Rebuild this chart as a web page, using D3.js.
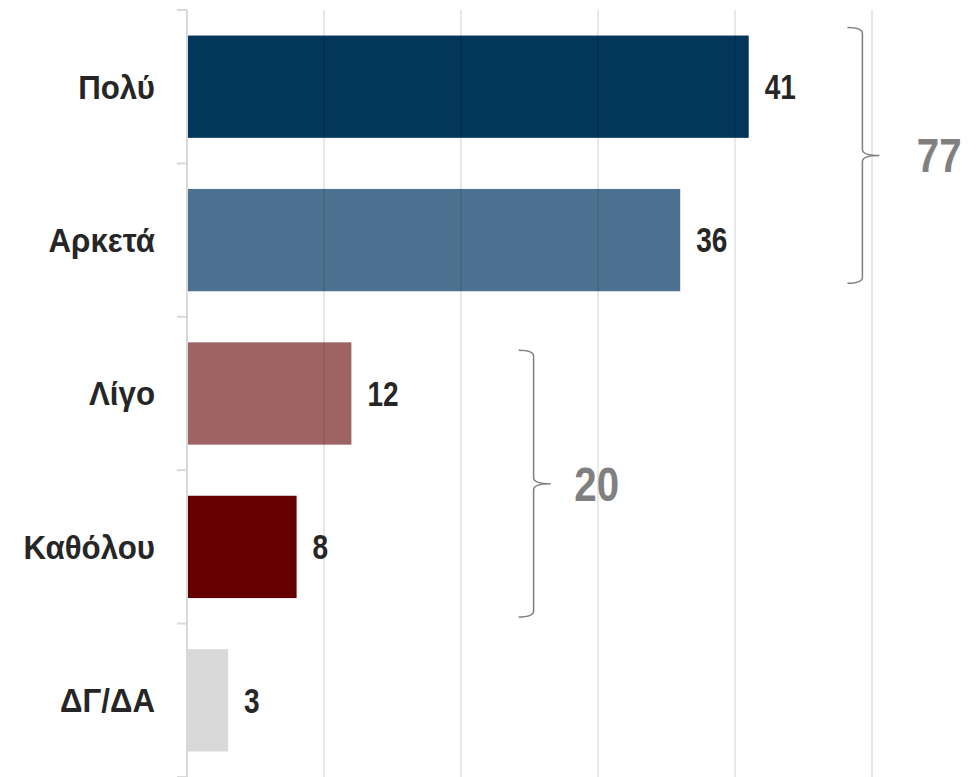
<!DOCTYPE html>
<html>
<head>
<meta charset="utf-8">
<script src="https://cdn.jsdelivr.net/npm/d3@7"></script>
<style>
  body { margin: 0; background: #fff; }
  svg text { font-family: "Liberation Sans", Arial, sans-serif; font-weight: bold; }
</style>
</head>
<body>
<svg class="chart" width="979" height="777"></svg>
<script>
const categories = ["Πολύ", "Αρκετά", "Λίγο", "Καθόλου", "ΔΓ/ΔΑ"];
const values = [41, 36, 12, 8, 3];
const colors = ["#02365a", "#4d7190", "#9e6464", "#640000", "#d9d9d9"];
const gridTicks = [0, 10, 20, 30, 40, 50];
// bracket groups: first/last category and summed label
const groups = [
    {from: "Πολύ", to: "Αρκετά", label: "77"},
    {from: "Λίγο", to: "Καθόλου", label: "20"}
];
// where each bracket / its label sits along the value axis
const bracketAt = [49.3, 25.3];
const bracketLabelAt = [54.9, 29.9];

let svg = d3.select("svg.chart"),
    margin = {top: 10, bottom: 0, left: 187, right: 107},
    width = +svg.attr("width"),
    height = +svg.attr("height");

let x = d3.scaleLinear()
    .domain([0, 50])
    .range([margin.left, width - margin.right]);

let y = d3.scaleBand()
    .domain(categories)
    .range([margin.top, height - margin.bottom])
    .paddingInner(0.333)
    .paddingOuter(0.1665);

// narrow bold look: squeeze text horizontally
function narrowText(sel, sx) {
    sel.attr("transform", function() {
        let tx = +this.getAttribute("data-x"), ty = +this.getAttribute("data-y");
        return "translate(" + tx + "," + ty + ") scale(" + sx + ",1)";
    });
}

// bars
svg.selectAll("rect.bar")
    .data(values)
    .enter().append("rect")
    .attr("class", "bar")
    .attr("x", x(0))
    .attr("y", (d, i) => y(categories[i]))
    .attr("width", d => x(d) - x(0))
    .attr("height", y.bandwidth())
    .attr("fill", (d, i) => colors[i]);

// vertical gridlines (drawn over bars, faint)
svg.selectAll("line.grid")
    .data(gridTicks.slice(1))
    .enter().append("line")
    .attr("class", "grid")
    .attr("x1", d => x(d)).attr("x2", d => x(d))
    .attr("y1", margin.top).attr("y2", height)
    .style("stroke", "#000")
    .style("stroke-opacity", 0.12)
    .style("stroke-width", 1.5);

// y axis with ticks at band boundaries
let axisG = svg.append("g").attr("class", "y-axis");
axisG.append("line")
    .attr("x1", x(0)).attr("x2", x(0))
    .attr("y1", margin.top).attr("y2", height)
    .style("stroke", "#d9d9d9")
    .style("stroke-width", 2);
let bounds = categories.map(c => y(c) - y.step() * y.paddingInner() / 2);
bounds.push(height - margin.bottom);
axisG.selectAll("line.tick")
    .data(bounds)
    .enter().append("line")
    .attr("class", "tick")
    .attr("x1", x(0) - 10).attr("x2", x(0))
    .attr("y1", d => d).attr("y2", d => d)
    .style("stroke", "#d9d9d9")
    .style("stroke-width", 2);

// category labels
svg.selectAll("text.cat")
    .data(categories)
    .enter().append("text")
    .attr("class", "cat")
    .attr("data-x", x(0) - 32)
    .attr("data-y", d => y(d) + y.bandwidth() / 2)
    .attr("dy", "0.35em")
    .style("text-anchor", "end")
    .style("font-size", "34px")
    .style("fill", "#262626")
    .text(d => d)
    .call(narrowText, 0.92);

// value labels
svg.selectAll("text.val")
    .data(values)
    .enter().append("text")
    .attr("class", "val")
    .attr("data-x", d => x(d) + 16)
    .attr("data-y", (d, i) => y(categories[i]) + y.bandwidth() / 2)
    .attr("dy", "0.35em")
    .style("font-size", "35px")
    .style("fill", "#262626")
    .text(d => d)
    .call(narrowText, 0.8);

// curly brackets
groups.forEach((g, i) => {
    let top = y(g.from) - 8 + (i === 1 ? 16 : 0);
    let bottom = y(g.to) + y.bandwidth() - 8 + (i === 1 ? 27 : 0);
    let xv = x(bracketAt[i]);
    let xl = xv - 15, xt = xv + 17;
    let mid = (top + bottom) / 2;
    let p = d3.path();
    p.moveTo(xl, top);
    p.quadraticCurveTo(xv, top, xv, top + 6);
    p.lineTo(xv, mid - 6);
    p.quadraticCurveTo(xv, mid, xt, mid);
    p.quadraticCurveTo(xv, mid, xv, mid + 6);
    p.lineTo(xv, bottom - 6);
    p.quadraticCurveTo(xv, bottom, xl, bottom);
    svg.append("path")
        .attr("d", p.toString())
        .style("fill", "none")
        .style("stroke", "#7f7f7f")
        .style("stroke-width", 1.5);
    svg.append("text")
        .attr("data-x", x(bracketLabelAt[i]))
        .attr("data-y", mid)
        .attr("dy", "0.35em")
        .style("text-anchor", "middle")
        .style("font-size", "48px")
        .style("fill", "#808080")
        .text(g.label)
        .call(narrowText, 0.84);
});
</script>
</body>
</html>
